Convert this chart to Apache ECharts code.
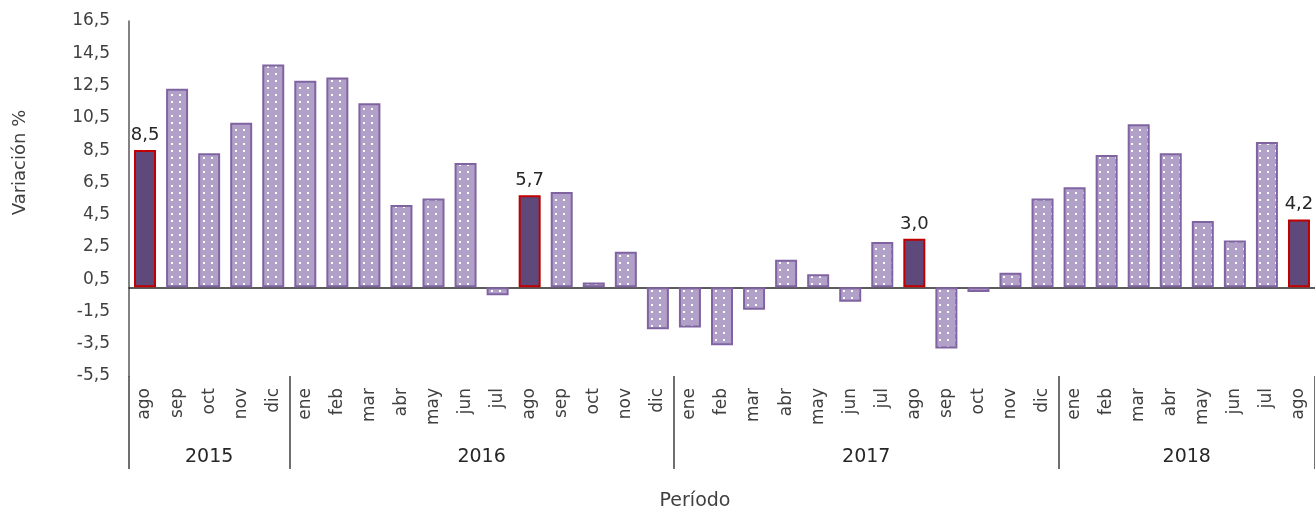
<!DOCTYPE html>
<html>
<head>
<meta charset="utf-8">
<script src="https://cdn.jsdelivr.net/npm/echarts@6/dist/echarts.min.js"></script>
<style>
  html, body { margin: 0; padding: 0; background: #fff; }
  #chart { width: 1315px; height: 516px; }
</style>
</head>
<body>
<div id="chart"></div>
<script>
// datos
var meses = ['ago', 'sep', 'oct', 'nov', 'dic',
  'ene', 'feb', 'mar', 'abr', 'may', 'jun', 'jul', 'ago', 'sep', 'oct', 'nov', 'dic',
  'ene', 'feb', 'mar', 'abr', 'may', 'jun', 'jul', 'ago', 'sep', 'oct', 'nov', 'dic',
  'ene', 'feb', 'mar', 'abr', 'may', 'jun', 'jul', 'ago']
var anios = ['2015', '2015', '2015', '2015', '2015',
  '2016', '2016', '2016', '2016', '2016', '2016', '2016', '2016', '2016', '2016', '2016', '2016',
  '2017', '2017', '2017', '2017', '2017', '2017', '2017', '2017', '2017', '2017', '2017', '2017',
  '2018', '2018', '2018', '2018', '2018', '2018', '2018', '2018']
var variacion = [8.5, 12.3, 8.3, 10.2, 13.8,
  12.8, 13.0, 11.4, 5.1, 5.5, 7.7, -0.5, 5.7, 5.9, 0.3, 2.2, -2.6,
  -2.5, -3.6, -1.4, 1.7, 0.8, -0.9, 2.8, 3.0, -3.8, -0.3, 0.9, 5.5,
  6.2, 8.2, 10.1, 8.3, 4.1, 2.9, 9.0, 4.2]
var mesDestacado = 'ago'

var fuente = 'DejaVu Sans'
var coma = function(v) { return Number(v).toFixed(1).replace('.', ',') }

// relleno punteado de las barras
function puntos() {
  var c = document.createElement('canvas')
  c.width = 8
  c.height = 7
  var g = c.getContext('2d')
  g.fillStyle = '#B1A0C7'
  g.fillRect(0, 0, 8, 7)
  g.fillStyle = '#ffffff'
  g.fillRect(3, 3, 2, 2)
  return c
}

// posicion de la etiqueta de cada anio (centro del grupo)
var grupos = {}
anios.forEach(function(a, i) {
  if (!grupos[a]) grupos[a] = { ini: i, fin: i }
  grupos[a].fin = i
})
function esCentro(i) {
  var g = grupos[anios[i]]
  return i === Math.floor((g.ini + g.fin) / 2)
}
function esPar(i) {
  var g = grupos[anios[i]]
  return (g.fin - g.ini + 1) % 2 === 0
}

var datos = variacion.map(function(v, i) {
  if (meses[i] !== mesDestacado) return v
  return {
    value: v,
    itemStyle: { color: '#5F497A', borderColor: '#C00000' },
    label: { show: true }
  }
})

var chart = echarts.init(document.getElementById('chart'))
chart.setOption({
  animation: false,
  grid: { left: 129, top: 21, width: 1188, height: 360 },
  xAxis: [
    {
      // linea del cero
      type: 'category',
      data: meses,
      position: 'bottom',
      axisLine: { onZero: true, lineStyle: { color: '#262626', width: 1.5 } },
      axisTick: { show: false },
      axisLabel: { show: false }
    },
    {
      // meses
      type: 'category',
      data: meses,
      position: 'bottom',
      axisLine: { show: false, onZero: false },
      axisTick: { show: false },
      axisLabel: {
        interval: 0,
        rotate: 90,
        margin: 12,
        fontFamily: fuente,
        fontSize: 17,
        color: '#404040'
      }
    },
    {
      // anios
      type: 'category',
      data: anios,
      position: 'bottom',
      axisLine: { show: false, onZero: false },
      axisTick: {
        show: true,
        length: 93,
        interval: function(i) { return i === 0 || anios[i] !== anios[i - 1] },
        lineStyle: { color: '#404040', width: 1.5 }
      },
      axisLabel: {
        interval: function(i) { return esCentro(i) },
        margin: 72,
        fontFamily: fuente,
        fontSize: 19,
        color: '#262626',
        formatter: function(v, i) { return esPar(i) ? '{p|' + v + '}' : v },
        rich: {
          p: { padding: [0, 0, 0, 32], fontFamily: fuente, fontSize: 19, color: '#262626' }
        }
      },
      name: 'Período',
      nameLocation: 'middle',
      nameGap: 116,
      nameTextStyle: {
        fontFamily: fuente,
        fontSize: 19,
        color: '#404040',
        padding: [0, 54, 0, 0]
      }
    }
  ],
  yAxis: {
    type: 'value',
    min: -5.5,
    max: 16.5,
    interval: 2,
    axisLine: { show: true, lineStyle: { color: '#595959', width: 1.5 } },
    axisTick: { show: false },
    splitLine: { show: false },
    axisLabel: {
      margin: 19,
      fontFamily: fuente,
      fontSize: 17,
      color: '#404040',
      formatter: coma
    },
    name: 'Variación %',
    nameLocation: 'middle',
    nameGap: 100,
    nameTextStyle: {
      fontFamily: fuente,
      fontSize: 18,
      color: '#404040',
      padding: [0, 0, 0, 72]
    }
  },
  series: [
    {
      type: 'bar',
      xAxisIndex: 0,
      data: datos,
      barWidth: 22,
      itemStyle: {
        color: { image: puntos(), repeat: 'repeat' },
        borderColor: '#8064A2',
        borderWidth: 2
      },
      label: {
        show: false,
        position: 'top',
        distance: 6,
        fontFamily: fuente,
        fontSize: 18,
        color: '#262626',
        formatter: function(p) { return coma(p.value) }
      }
    }
  ]
})
</script>
</body>
</html>
